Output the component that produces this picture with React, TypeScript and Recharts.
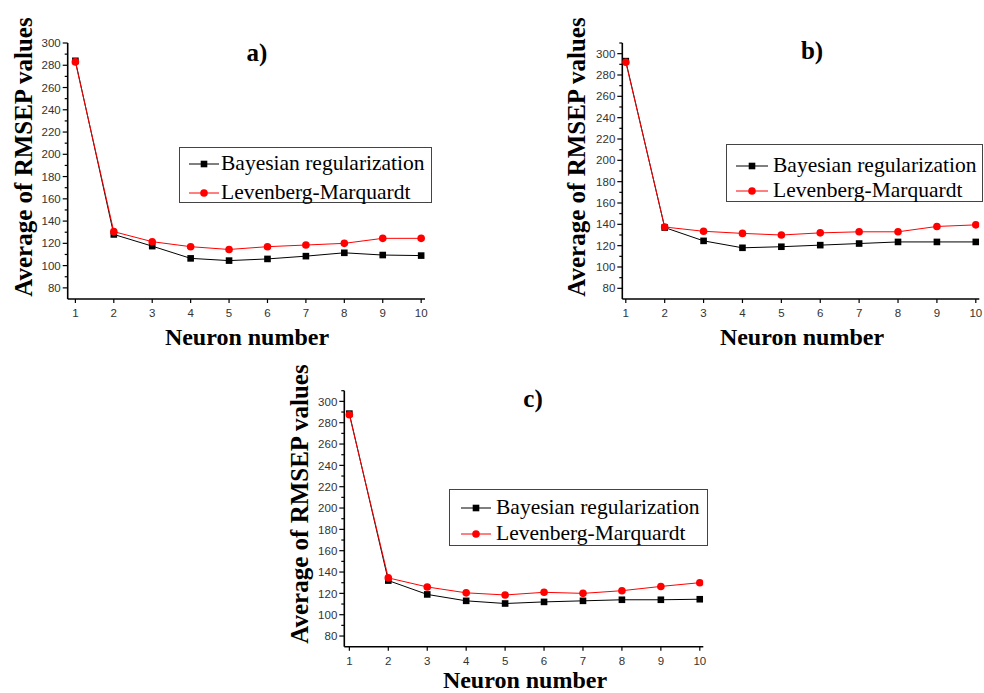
import { Legend, Line, LineChart, XAxis, YAxis } from "recharts";

const neurons = [1, 2, 3, 4, 5, 6, 7, 8, 9, 10];

const bayesianA = [284, 128, 117.5, 106.5, 104.5, 106, 108.5, 111.5, 109.5, 109];
const levenbergA = [283, 130.5, 121.5, 117, 114.5, 117, 118.5, 120, 124.5, 124.5];
const bayesianB = [293, 137, 124.5, 118, 119, 120.5, 122, 123.5, 123.5, 123.5];
const levenbergB = [292, 137.5, 133.5, 131.5, 130, 132, 133, 133, 138, 139.5];
const bayesianC = [288.5, 132, 119, 113, 110.5, 112, 113, 114, 114, 114.5];
const levenbergC = [287.5, 134.5, 126, 120.5, 118.5, 121, 120, 122.5, 126.5, 130];

const yTicksA = [80, 90, 100, 110, 120, 130, 140, 150, 160, 170, 180, 190, 200, 210, 220, 230, 240, 250, 260, 270, 280, 290, 300];
const yTicksBC = [...yTicksA, 310];

const seriesNames = { br: "Bayesian regularization", lm: "Levenberg-Marquardt" };

const SERIF = '"Liberation Serif", "Times New Roman", serif';
const SANS = '"Liberation Sans", Arial, sans-serif';

const rows = (br: number[], lm: number[]) => neurons.map((n, i) => ({ n, br: br[i], lm: lm[i] }));

function YTick(props: any) {
  const { x, y, payload } = props;
  const major = payload.value % 20 === 0;
  return (
    <g>
      <line x1={x - (major ? 5 : 3)} x2={x} y1={y} y2={y} stroke="#000" strokeWidth={1.2} />
      {major && (
        <text x={x - 7} y={y} dy="0.36em" textAnchor="end" fontSize={11.5} fill="#333" fontFamily={SANS}>
          {payload.value}
        </text>
      )}
    </g>
  );
}

function XTick(props: any) {
  const { x, y, payload } = props;
  return (
    <g>
      <line x1={x} x2={x} y1={y} y2={y + 4} stroke="#000" strokeWidth={1.2} />
      <text x={x} y={y + 18} textAnchor="middle" fontSize={11.5} fill="#333" fontFamily={SANS}>
        {payload.value}
      </text>
    </g>
  );
}

const squareDot = (props: any) => (
  <rect key={`sq${props.index}`} x={props.cx - 3.3} y={props.cy - 3.3} width={6.6} height={6.6} fill="#000" />
);
const circleDot = (props: any) => <circle key={`ci${props.index}`} cx={props.cx} cy={props.cy} r={3.8} fill="#ff0000" />;

type LegendBox = { x: number; y: number; w: number; h: number; lineX: number; lineW: number; textX: number; rows: number[] };

function LegendContent({ box }: { box: LegendBox }) {
  const entries: ("br" | "lm")[] = ["br", "lm"];
  return (
    <div style={{ position: "relative", width: box.w, height: box.h, border: "1px solid #444", background: "#fff", boxSizing: "border-box" }}>
      {entries.map((key, i) => (
        <div key={key}>
          <svg style={{ position: "absolute", left: box.lineX, top: box.rows[i] - 5 }} width={box.lineW} height={10}>
            <line x1={0} x2={box.lineW} y1={5} y2={5} stroke={key === "br" ? "#000" : "#ff0000"} strokeWidth={1} />
            {key === "br" ? (
              <rect x={box.lineW / 2 - 3.3} y={1.7} width={6.6} height={6.6} fill="#000" />
            ) : (
              <circle cx={box.lineW / 2} cy={5} r={3.8} fill="#ff0000" />
            )}
          </svg>
          <div
            style={{
              position: "absolute",
              left: box.textX,
              top: box.rows[i],
              transform: "translateY(-52%)",
              fontFamily: SERIF,
              fontSize: 21.5,
              color: "#000",
              whiteSpace: "nowrap",
              lineHeight: 1,
            }}
          >
            {seriesNames[key]}
          </div>
        </div>
      ))}
    </div>
  );
}

type PanelProps = {
  left: number;
  top: number;
  width: number;
  height: number;
  margin: { top: number; right: number; bottom: number; left: number };
  xDomain: [number, number];
  yDomain: [number, number];
  yTicks: number[];
  data: { n: number; br: number; lm: number }[];
  legend: LegendBox;
};

function Panel({ left, top, width, height, margin, xDomain, yDomain, yTicks, data, legend }: PanelProps) {
  return (
    <div style={{ position: "absolute", left, top }}>
      <LineChart width={width} height={height} data={data} margin={margin}>
        <XAxis
          dataKey="n"
          type="number"
          domain={xDomain}
          allowDataOverflow
          ticks={neurons}
          height={25}
          tickSize={0}
          tickMargin={0}
          tickLine={false}
          tick={<XTick />}
          axisLine={{ stroke: "#000", strokeWidth: 1.6 }}
        />
        <YAxis
          type="number"
          domain={yDomain}
          allowDataOverflow
          ticks={yTicks}
          interval={0}
          width={50}
          tickSize={0}
          tickMargin={0}
          tickLine={false}
          tick={<YTick />}
          axisLine={{ stroke: "#000", strokeWidth: 1.6 }}
        />
        <Legend
          layout="horizontal"
          verticalAlign="middle"
          align="center"
          wrapperStyle={{ left: legend.x, top: legend.y, width: legend.w, height: legend.h }}
          content={() => <LegendContent box={legend} />}
        />
        <Line dataKey="br" name={seriesNames.br} stroke="#000" strokeWidth={1} dot={squareDot} activeDot={false} isAnimationActive={false} />
        <Line dataKey="lm" name={seriesNames.lm} stroke="#ff0000" strokeWidth={1} dot={circleDot} activeDot={false} isAnimationActive={false} />
      </LineChart>
    </div>
  );
}

function Txt({ x, y, size, rotate, children }: { x: number; y: number; size: number; rotate?: boolean; children: string }) {
  return (
    <div
      style={{
        position: "absolute",
        left: x,
        top: y,
        transform: `translate(-50%, -50%)${rotate ? " rotate(-90deg)" : ""}`,
        fontFamily: SERIF,
        fontWeight: "bold",
        fontSize: size,
        lineHeight: 1,
        whiteSpace: "nowrap",
        color: "#000",
      }}
    >
      {children}
    </div>
  );
}

export default function App() {
  return (
    <div style={{ position: "absolute", left: 0, top: 0, width: 984, height: 693, background: "#fff", overflow: "hidden" }}>
      <Panel
        left={0}
        top={0}
        width={440}
        height={340}
        margin={{ top: 43, right: 15, bottom: 16, left: 17.7 }}
        xDomain={[0.8, 10.1]}
        yDomain={[70, 300]}
        yTicks={yTicksA}
        data={rows(bayesianA, levenbergA)}
        legend={{ x: 179, y: 147, w: 253, h: 56, lineX: 9, lineW: 30, textX: 41, rows: [16, 45] }}
      />
      <Panel
        left={550}
        top={0}
        width={434}
        height={340}
        margin={{ top: 43, right: 4.7, bottom: 16, left: 22.3 }}
        xDomain={[0.91, 10.09]}
        yDomain={[70, 310]}
        yTicks={yTicksBC}
        data={rows(bayesianB, levenbergB)}
        legend={{ x: 176, y: 144, w: 257, h: 58, lineX: 9, lineW: 32, textX: 46, rows: [21, 46] }}
      />
      <Panel
        left={280}
        top={370}
        width={440}
        height={323}
        margin={{ top: 20.7, right: 16.7, bottom: 21.3, left: 14.3 }}
        xDomain={[0.87, 10.09]}
        yDomain={[70, 310]}
        yTicks={yTicksBC}
        data={rows(bayesianC, levenbergC)}
        legend={{ x: 169, y: 119, w: 259, h: 57, lineX: 11, lineW: 30, textX: 46, rows: [18, 44] }}
      />

      <Txt x={257} y={52} size={25}>a)</Txt>
      <Txt x={812} y={50} size={25}>b)</Txt>
      <Txt x={533} y={398} size={25}>c)</Txt>

      <Txt x={23} y={157} size={25} rotate>Average of RMSEP values</Txt>
      <Txt x={576} y={157} size={25} rotate>Average of RMSEP values</Txt>
      <Txt x={299} y={504} size={25} rotate>Average of RMSEP values</Txt>

      <Txt x={247} y={337} size={24}>Neuron number</Txt>
      <Txt x={802} y={337} size={24}>Neuron number</Txt>
      <Txt x={525} y={680} size={24}>Neuron number</Txt>
    </div>
  );
}
